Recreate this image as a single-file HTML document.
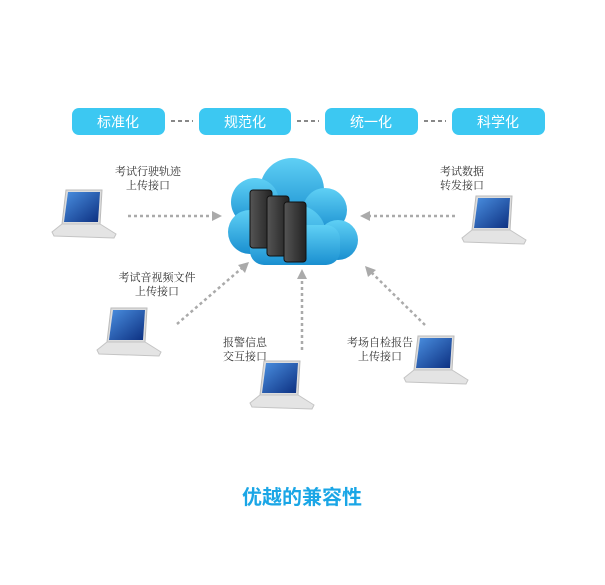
<!DOCTYPE html>
<html><head><meta charset="utf-8"><style>
body{margin:0;background:#fff;}
svg{display:block;}
.l{font-family:"Liberation Serif","Noto Serif CJK SC",serif;font-size:11px;fill:#333;text-anchor:middle;}
.p{font-family:"Liberation Sans","Noto Sans CJK SC",sans-serif;font-size:14px;fill:#fff;text-anchor:middle;}
</style></head><body>
<svg width="605" height="585" viewBox="0 0 605 585">
<defs>
<linearGradient id="cl" x1="0" y1="0" x2="0" y2="1"><stop offset="0" stop-color="#5fd0f5"/><stop offset="1" stop-color="#1a8fd0"/></linearGradient>
<linearGradient id="sv" x1="0" y1="0" x2="1" y2="0"><stop offset="0" stop-color="#555"/><stop offset="1" stop-color="#222"/></linearGradient>
<linearGradient id="scr" x1="0" y1="0" x2="1" y2="1"><stop offset="0" stop-color="#4a8fe0"/><stop offset="1" stop-color="#0c2f80"/></linearGradient>
<g id="lap">
<path d="M14 0 L50 0 L48 34 L10 34 Z" fill="#ddd" stroke="#bbb"/>
<path d="M16 2 L48 2 L46 32 L12 32 Z" fill="url(#scr)"/>
<path d="M10 34 L48 34 L64 44 L62 48 L2 46 L0 42 Z" fill="#e4e4e4" stroke="#c4c4c4"/>
</g>
</defs>
<g fill="#3cc8f2">
<rect x="72" y="108" width="93" height="27" rx="7"/>
<rect x="199" y="108" width="92" height="27" rx="7"/>
<rect x="325" y="108" width="93" height="27" rx="7"/>
<rect x="452" y="108" width="93" height="27" rx="7"/>
</g>
<text class="p" x="118" y="127">标准化</text>
<text class="p" x="245" y="127">规范化</text>
<text class="p" x="371" y="127">统一化</text>
<text class="p" x="498" y="127">科学化</text>
<g stroke="#888" stroke-width="2" stroke-dasharray="4 3">
<line x1="171" y1="121" x2="193" y2="121"/><line x1="297" y1="121" x2="319" y2="121"/><line x1="424" y1="121" x2="446" y2="121"/>
</g>
<!-- cloud -->
<g fill="url(#cl)">
<circle cx="292" cy="190" r="32"/><circle cx="255" cy="202" r="24"/><circle cx="325" cy="210" r="22"/>
<circle cx="250" cy="232" r="22"/><circle cx="338" cy="240" r="20"/><circle cx="296" cy="235" r="30"/>
<rect x="250" y="225" width="90" height="40" rx="14"/>
</g>
<g fill="url(#sv)" stroke="#111">
<rect x="250" y="190" width="22" height="58" rx="3"/>
<rect x="267" y="196" width="22" height="60" rx="3"/>
<rect x="284" y="202" width="22" height="60" rx="3"/>
</g>
<!-- arrows -->
<g stroke="#aaa" stroke-width="2.5" stroke-dasharray="3 3" fill="none">
<line x1="128" y1="216" x2="214" y2="216"/>
<line x1="455" y1="216" x2="368" y2="216"/>
<line x1="177" y1="324" x2="242" y2="268"/>
<line x1="302" y1="350" x2="302" y2="278"/>
<line x1="425" y1="325" x2="372" y2="273"/>
</g>
<g fill="#aaa">
<path d="M222 216 L212 211 L212 221Z"/>
<path d="M360 216 L370 211 L370 221Z"/>
<path d="M249 262 L238 265 L245 273Z"/>
<path d="M302 269 L297 279 L307 279Z"/>
<path d="M365 266 L368 277 L376 270Z"/>
</g>
<use href="#lap" x="52" y="190"/>
<use href="#lap" x="97" y="308"/>
<use href="#lap" x="250" y="361"/>
<use href="#lap" x="404" y="336"/>
<use href="#lap" x="462" y="196"/>
<text class="l" x="148" y="175">考试行驶轨迹</text><text class="l" x="148" y="189">上传接口</text>
<text class="l" x="462" y="175">考试数据</text><text class="l" x="462" y="189">转发接口</text>
<text class="l" x="157" y="281">考试音视频文件</text><text class="l" x="157" y="295">上传接口</text>
<text class="l" x="245" y="346">报警信息</text><text class="l" x="245" y="360">交互接口</text>
<text class="l" x="380" y="346">考场自检报告</text><text class="l" x="380" y="360">上传接口</text>
<text x="302" y="504" text-anchor="middle" style="font-family:'Liberation Sans','Noto Sans CJK SC',sans-serif;font-size:20px;font-weight:bold;fill:#1aa6e6">优越的兼容性</text>
</svg>
</body></html>
